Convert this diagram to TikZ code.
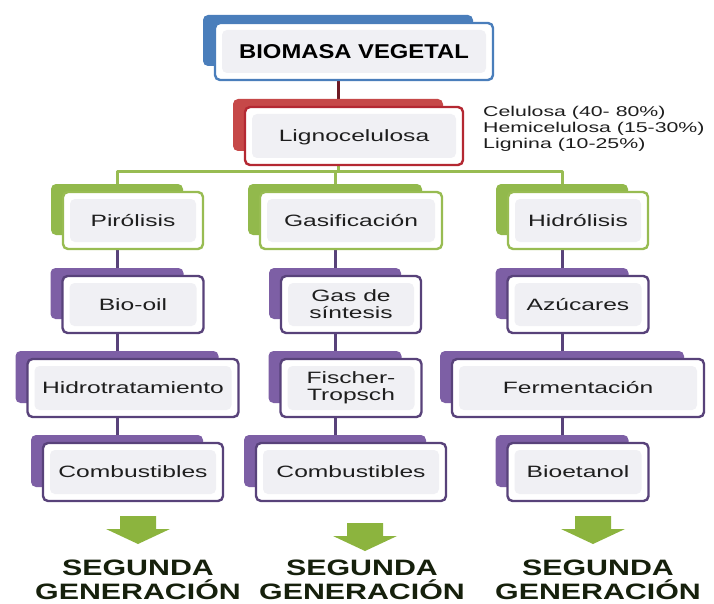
\documentclass[tikz,border=0pt]{standalone}
\usepackage{fontspec}
\setmainfont{Liberation Sans}
\newfontfamily\nodefont[FakeStretch=1.5]{Liberation Sans}
\newfontfamily\titlefont[FakeStretch=1.19]{Liberation Sans}
\newfontfamily\genfont[FakeStretch=1.36]{Liberation Sans}
\pgfdeclarelayer{bg}
\pgfsetlayers{bg,main}
\definecolor{cblue}{RGB}{74,126,187}
\definecolor{cred}{RGB}{198,72,72}
\definecolor{credline}{RGB}{180,40,50}
\definecolor{cdkred}{RGB}{110,25,35}
\definecolor{cgreen}{RGB}{146,185,76}
\definecolor{cgreenline}{RGB}{152,188,82}
\definecolor{cpurple}{RGB}{125,95,165}
\definecolor{cpurpleline}{RGB}{88,66,122}
\definecolor{cinner}{RGB}{240,240,244}
\definecolor{ctext}{RGB}{30,30,30}
\definecolor{carrow}{RGB}{140,180,62}
\definecolor{cgen}{RGB}{22,32,12}
\tikzset{
  backbox/.style={rounded corners=5pt, inner sep=0pt, outer sep=0pt},
  frontbox/.style={rounded corners=5pt, inner sep=0pt, outer sep=0pt, fill=white,
    line width=2.4pt, text=ctext, align=center,
    font=\nodefont\fontsize{16.4}{17}\selectfont,
    path picture={\fill[cinner] ([shift={(7pt,-7pt)}]path picture bounding box.north west)
      rectangle ([shift={(-7pt,7pt)}]path picture bounding box.south east);}},
  one/.style={text height=11.7pt, text depth=0pt},
  blueback/.style={fill=cblue}, bluefront/.style={draw=cblue},
  redback/.style={fill=cred}, redfront/.style={draw=credline},
  greenback/.style={fill=cgreen}, greenfront/.style={draw=cgreenline},
  purpleback/.style={fill=cpurple}, purplefront/.style={draw=cpurpleline},
  link/.style={line width=3pt},
  gen/.style={align=center, inner sep=0pt,
    font=\genfont\bfseries\fontsize{22.3}{24}\selectfont, text=cgen},
  garrowstyle/.style={fill=carrow}
}
% name, cx, cy, w, h, scheme, options, text
\newcommand\stk[8]{%
  \node[backbox,#6back,minimum width=#4-8,minimum height=#5-6] (#1B) at (#2-16,#3-11) {};
  \node[frontbox,#6front,minimum width=#4,minimum height=#5,#7] (#1F) at (#2,#3) {#8};}
\newcommand\garrow[2]{%
  \fill[garrowstyle] (#1-18,#2) -- (#1+18,#2) -- (#1+18,#2+13) -- (#1+32,#2+13)
    -- (#1,#2+28) -- (#1-32,#2+13) -- (#1-18,#2+13) -- cycle;}
\begin{document}
\begin{tikzpicture}[x=1pt,y=-1pt]
\useasboundingbox (0,0) rectangle (714,604);

\stk{bm}{354}{51.5}{278}{57}{blue}{font=\titlefont\bfseries\fontsize{20}{22}\selectfont, text=black, text height=14.3pt, text depth=0pt}{BIOMASA VEGETAL}
\stk{lig}{354}{136}{218}{58}{red}{one}{Lignocelulosa}

\stk{pir}{133}{220.5}{140}{57}{green}{one}{Pirólisis}
\stk{gas}{351}{220.5}{182}{57}{green}{one}{Gasificación}
\stk{hid}{578}{220.5}{140}{57}{green}{one}{Hidrólisis}

\stk{bio}{133}{304.5}{141}{57}{purple}{one}{Bio-oil}
\stk{syn}{351}{304.5}{140}{57}{purple}{}{Gas de\\síntesis}
\stk{azu}{578}{304.5}{141}{57}{purple}{one}{Azúcares}

\stk{htr}{133}{388}{211}{58}{purple}{one}{Hidrotratamiento}
\stk{fis}{351}{388}{141}{58}{purple}{}{Fischer-\\Tropsch}
\stk{fer}{578}{388}{252}{58}{purple}{one}{Fermentación}

\stk{coa}{133}{472}{180}{58}{purple}{one}{Combustibles}
\stk{cob}{351}{472}{190}{58}{purple}{one}{Combustibles}
\stk{bet}{578}{472}{141}{58}{purple}{one}{Bioetanol}

\node[anchor=north west, align=left, inner sep=0pt,
  font=\nodefont\fontsize{14.2}{16}\selectfont, text=ctext] (comp) at (483,106)
  {Celulosa (40- 80\%)\\Hemicelulosa (15-30\%)\\Lignina (10-25\%)};

\coordinate (bus) at (0,172);
\begin{pgfonlayer}{bg}
\fill[white] (0,0) rectangle (714,604);
\draw[link, cdkred] (bmB.center |- bmF.south) -- (ligB.north);
\draw[link, cgreenline] (ligB.center |- ligF.south) -- (ligB.center |- bus);
\draw[link, cgreenline, line join=round] (pirB.north) -- (pirB.north |- bus) -- (hidB.north |- bus) -- (hidB.north);
\draw[link, cgreenline] (gasB.north |- bus) -- (gasB.north);
\foreach \a/\b in {pir/bio,bio/htr,htr/coa,gas/syn,syn/fis,fis/cob,hid/azu,azu/fer,fer/bet}
  \draw[link, cpurpleline] (\a B.center |- \a F.south) -- (\b B.north);
\end{pgfonlayer}

\garrow{138}{516}
\garrow{365}{523}
\garrow{593}{516}

\node[gen] (g1) at (138,580) {SEGUNDA\\GENERACIÓN};
\node[gen] (g2) at (362,580) {SEGUNDA\\GENERACIÓN};
\node[gen] (g3) at (598,580) {SEGUNDA\\GENERACIÓN};
\end{tikzpicture}
\end{document}
